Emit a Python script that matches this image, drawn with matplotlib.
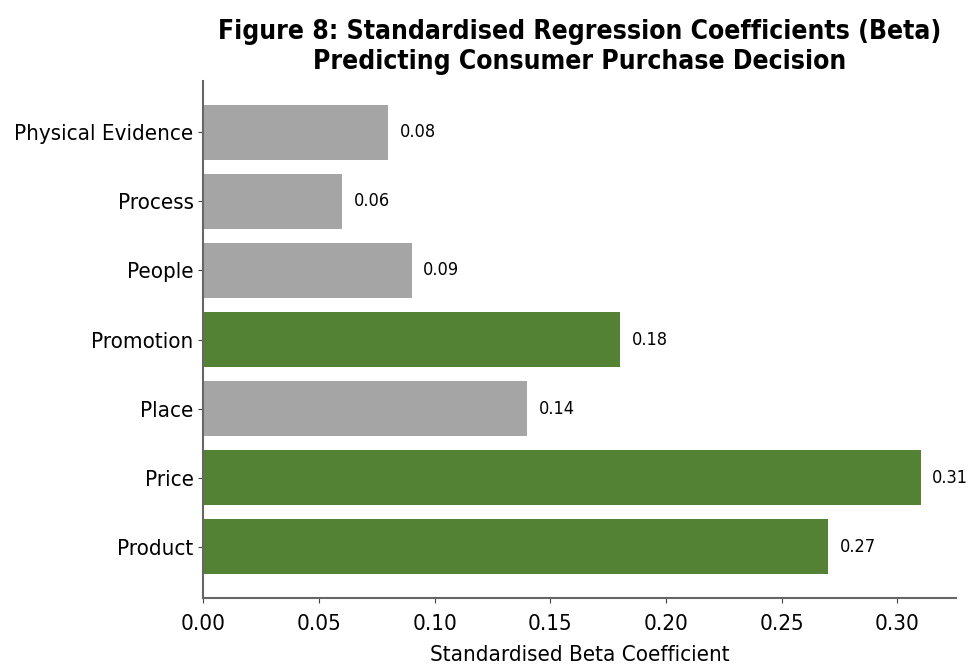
import matplotlib.pyplot as plt

# narrow DejaVu for all text
plt.rcParams['font.family'] = 'DejaVu Sans'
plt.rcParams['font.stretch'] = 'condensed'

# Marketing mix factors and their standardised beta weights
factors = ['Product', 'Price', 'Place', 'Promotion', 'People', 'Process', 'Physical Evidence']
betas = [0.27, 0.31, 0.14, 0.18, 0.09, 0.06, 0.08]
significant = [True, True, False, True, False, False, False]

green = '#548235'
grey = '#a5a5a5'
colors = [green if s else grey for s in significant]

fig, ax = plt.subplots(figsize=(9.73, 6.67), dpi=100)
fig.subplots_adjust(left=0.209, right=0.983, bottom=0.104, top=0.878)

bars = ax.barh(factors, betas, color=colors, height=0.8)

# value labels just past the end of each bar
for bar, val in zip(bars, betas):
    ax.text(val + 0.005, bar.get_y() + bar.get_height() / 2, f'{val:.2f}',
            va='center', ha='left', fontsize=13)

ax.spines['top'].set_visible(False)
ax.spines['right'].set_visible(False)
for side in ['left', 'bottom']:
    ax.spines[side].set_color('#666666')
    ax.spines[side].set_linewidth(1.5)

ax.tick_params(axis='both', labelsize=16, color='#444444')
ax.tick_params(axis='x', pad=8.5)

ax.set_xlabel('Standardised Beta Coefficient', fontsize=16, labelpad=8)
ax.set_title('Figure 8: Standardised Regression Coefficients (Beta)\nPredicting Consumer Purchase Decision',
             fontsize=19, fontweight='bold', pad=9)

plt.savefig('out.png', dpi=100)
